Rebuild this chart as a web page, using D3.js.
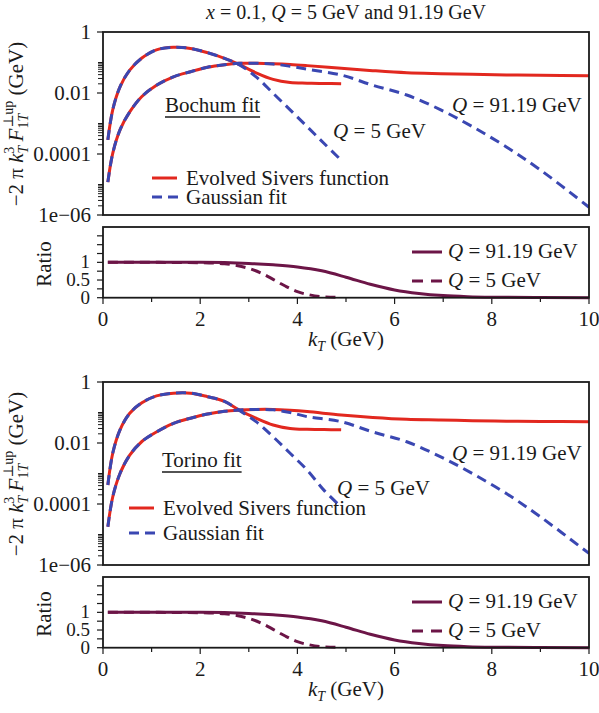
<!DOCTYPE html>
<html>
<head>
<meta charset="utf-8">
<script src="https://cdn.jsdelivr.net/npm/d3@7"></script>
<style>
  body { margin: 0; background: #fff; }
  svg { display: block; font-family: "Liberation Serif", "DejaVu Serif", serif; }
</style>
</head>
<body>
<div id="chart"></div>
<script>
// kT grids (GeV)
const kQ5 = [0.1, 0.2, 0.35, 0.55, 0.8, 1.1, 1.45, 1.8, 2.15, 2.5, 2.8, 3.15, 3.5, 3.85, 4.2, 4.55, 4.9];
const kQ91 = [0.1, 0.2, 0.35, 0.55, 0.8, 1.1, 1.45, 1.8, 2.15, 2.5, 2.8, 3.15, 3.5, 3.85, 4.2, 4.9, 5.55, 6.25, 6.95, 7.6, 8.3, 9, 10];

// Bochum fit
const bochumEvolvedQ5 = [2.9e-4, 2.8e-3, 0.016, 0.056, 0.14, 0.26, 0.315, 0.29, 0.21, 0.137, 0.087, 0.046, 0.028, 0.022, 0.021, 0.0205, 0.020];
const bochumGaussQ5 = [2.9e-4, 2.8e-3, 0.016, 0.056, 0.14, 0.26, 0.315, 0.29, 0.21, 0.137, 0.085, 0.034, 0.0098, 0.0028, 7.9e-4, 2.2e-4, 6.3e-5];
const bochumEvolvedQ91 = [1.2e-5, 1.05e-4, 6.2e-4, 2.4e-3, 7.7e-3, 0.018, 0.034, 0.050, 0.070, 0.085, 0.094, 0.094, 0.091, 0.086, 0.079, 0.065, 0.054, 0.046, 0.043, 0.041, 0.039, 0.038, 0.037];
const bochumGaussQ91 = [1.2e-5, 1.05e-4, 6.2e-4, 2.4e-3, 7.7e-3, 0.018, 0.034, 0.050, 0.070, 0.085, 0.094, 0.094, 0.089, 0.075, 0.060, 0.039, 0.018, 0.0086, 0.0028, 7.9e-4, 1.7e-4, 3.0e-5, 1.8e-6];

// Torino fit
const torinoEvolvedQ5 = [4.2e-4, 4.6e-3, 0.027, 0.094, 0.21, 0.35, 0.43, 0.43, 0.33, 0.23, 0.12, 0.065, 0.039, 0.030, 0.028, 0.0275, 0.027];
const torinoGaussQ5 = [4.2e-4, 4.6e-3, 0.027, 0.094, 0.21, 0.35, 0.43, 0.43, 0.33, 0.23, 0.118, 0.050, 0.016, 0.0046, 0.0013, 2.8e-4, 8e-5];
const torinoEvolvedQ91 = [1.8e-5, 1.7e-4, 1.0e-3, 4.0e-3, 0.0112, 0.023, 0.044, 0.065, 0.089, 0.11, 0.12, 0.126, 0.126, 0.118, 0.107, 0.083, 0.069, 0.060, 0.057, 0.054, 0.052, 0.051, 0.050];
const torinoGaussQ91 = [1.8e-5, 1.7e-4, 1.0e-3, 4.0e-3, 0.0112, 0.023, 0.044, 0.065, 0.089, 0.11, 0.12, 0.126, 0.122, 0.100, 0.073, 0.050, 0.023, 0.011, 0.0035, 0.001, 2.2e-4, 3.8e-5, 2.4e-6];

// Ratio panels
const ratioK5 = [0.1, 1, 2, 2.5, 2.75, 3, 3.25, 3.5, 3.75, 4, 4.25, 4.5, 4.9];
const ratioQ5 = [1, 1, 0.99, 0.96, 0.91, 0.83, 0.70, 0.52, 0.33, 0.17, 0.08, 0.03, 0.01];
const ratioK91 = [0.1, 1, 2, 3, 3.5, 4, 4.5, 5, 5.5, 6, 6.5, 7, 7.5, 8, 9, 10];
const ratioQ91 = [1, 1, 1, 0.97, 0.93, 0.87, 0.76, 0.58, 0.38, 0.22, 0.12, 0.06, 0.03, 0.015, 0.005, 0.002];

// Tick labels
const logTickValues = [1, 0.01, 0.0001, 1e-6];
const logTickLabels = ['1', '0.01', '0.0001', '1e\u221206'];
const ratioTickLabels = [0, 0.5, 1];
const kTickLabels = [0, 2, 4, 6, 8, 10];

const RED = '#e2281f';
const BLUE = '#3a47b2';
const PURPLE = '#6c1547';
const INK = '#1a1a1a';
const FS = 21;

const W = 599, H = 713;
const svg = d3.select('#chart').append('svg')
    .attr('width', W)
    .attr('height', H);

const x = d3.scaleLinear().domain([0, 10]).range([103, 589]);
const smooth = d3.curveCatmullRom.alpha(0.5);

// Title
const title = svg.append('text')
    .attr('x', 346).attr('y', 19)
    .attr('text-anchor', 'middle')
    .attr('font-size', FS - 1)
    .attr('fill', INK);
title.append('tspan').attr('font-style', 'italic').text('x');
title.append('tspan').text(' = 0.1, ');
title.append('tspan').attr('font-style', 'italic').text('Q');
title.append('tspan').text(' = 5 GeV and 91.19 GeV');

// rich text helper: parts = [{t, i, dx, dy, fs}]
function rich(g, px, py, parts, anchor, size) {
    const t = g.append('text')
        .attr('x', px).attr('y', py)
        .attr('font-size', size || FS)
        .attr('fill', INK)
        .attr('text-anchor', anchor || 'start');
    parts.forEach(p => {
        const s = t.append('tspan').text(p.t);
        if (p.i) s.attr('font-style', 'italic');
        if (p.dx) s.attr('dx', p.dx);
        if (p.dy) s.attr('dy', p.dy);
        if (p.fs) s.attr('font-size', p.fs);
    });
    return t;
}

function drawGroup(off, cfg) {
    const g = svg.append('g').attr('transform', `translate(0,${off})`);

    // ---- main (log) panel ----
    const y = d3.scaleLog().domain([1e-6, 1]).range([215, 32]);

    g.append('defs').append('clipPath').attr('id', 'clip' + off)
        .append('rect').attr('x', 103).attr('y', 32).attr('width', 486).attr('height', 183);

    // minor ticks: 2..10 x 10^-2, 10^-4, 10^-6
    const minor = [];
    [1e-2, 1e-4, 1e-6].forEach(d => { for (let k = 2; k <= 10; k++) minor.push(k * d); });
    g.append('g').selectAll('line').data(minor).enter().append('line')
        .attr('x1', 98).attr('x2', 103)
        .attr('y1', d => y(d)).attr('y2', d => y(d))
        .attr('stroke', INK).attr('stroke-width', 1);
    g.append('g').selectAll('line').data(logTickValues).enter().append('line')
        .attr('x1', 97).attr('x2', 103)
        .attr('y1', d => y(d)).attr('y2', d => y(d))
        .attr('stroke', INK).attr('stroke-width', 1.2);
    g.append('g').selectAll('text').data(logTickValues).enter().append('text')
        .attr('x', 91)
        .attr('y', d => y(d) + 7)
        .attr('text-anchor', 'end')
        .attr('font-size', FS)
        .attr('fill', INK)
        .text((d, i) => logTickLabels[i]);

    const line = (ks, vs) => d3.line()
        .x((d, i) => x(ks[i]))
        .y(d => y(d))
        .curve(smooth)(vs);

    const curves = g.append('g').attr('clip-path', `url(#clip${off})`);
    [[kQ91, cfg.evQ91], [kQ5, cfg.evQ5]].forEach(([ks, vs]) => {
        curves.append('path').attr('d', line(ks, vs))
            .attr('fill', 'none').attr('stroke', RED).attr('stroke-width', 3);
    });
    [[kQ91, cfg.gaQ91], [kQ5, cfg.gaQ5]].forEach(([ks, vs]) => {
        curves.append('path').attr('d', line(ks, vs))
            .attr('fill', 'none').attr('stroke', BLUE).attr('stroke-width', 3)
            .attr('stroke-dasharray', '10,6');
    });

    g.append('rect').attr('x', 103).attr('y', 32).attr('width', 486).attr('height', 183)
        .attr('fill', 'none').attr('stroke', INK).attr('stroke-width', 1.8);

    // fit name, underlined
    const fit = rich(g, cfg.fitX, cfg.fitY, [{ t: cfg.fitName }]);
    const fw = fit.node().getComputedTextLength();
    g.append('line')
        .attr('x1', cfg.fitX).attr('x2', cfg.fitX + fw)
        .attr('y1', cfg.fitY + 5).attr('y2', cfg.fitY + 5)
        .attr('stroke', INK).attr('stroke-width', 1.6);

    // Q labels
    rich(g, 452, cfg.q91Y, [{ t: 'Q', i: true }, { t: ' = 91.19 GeV' }]);
    rich(g, cfg.q5X, cfg.q5Y, [{ t: 'Q', i: true }, { t: ' = 5 GeV' }]);

    // legend
    const L = cfg.leg;
    g.append('line').attr('x1', L.x).attr('x2', L.x + 25).attr('y1', L.y1).attr('y2', L.y1)
        .attr('stroke', RED).attr('stroke-width', 3);
    rich(g, L.x + 34, L.y1 + 7, [{ t: 'Evolved Sivers function' }]);
    g.append('line').attr('x1', L.x).attr('x2', L.x + 26).attr('y1', L.y2).attr('y2', L.y2)
        .attr('stroke', BLUE).attr('stroke-width', 3).attr('stroke-dasharray', '10,6');
    rich(g, L.x + 34, L.y2 + 7, [{ t: 'Gaussian fit' }]);

    // y label
    const yl = rich(g, 0, 0, [
        { t: '\u22122 \u03c0 ' },
        { t: 'k', i: true },
        { t: 'T', i: true, fs: 14, dy: 5 },
        { t: '3', fs: 14, dx: -8, dy: -14 },
        { t: ' ', dy: 9 },
        { t: 'F', i: true },
        { t: '1', fs: 14, dy: 5 },
        { t: 'T', i: true, fs: 14 },
        { t: '\u22a5up', fs: 14, dx: -14, dy: -15 },
        { t: ' (GeV)', dy: 10 }
    ], 'middle');
    yl.attr('transform', 'translate(23,124) rotate(-90)');

    // ---- ratio panel ----
    const yr = d3.scaleLinear().domain([0, 2]).range([297.7, 227]);
    g.append('g').selectAll('line').data(d3.range(0, 2, 0.25)).enter().append('line')
        .attr('x1', 97).attr('x2', 103)
        .attr('y1', d => yr(d)).attr('y2', d => yr(d))
        .attr('stroke', INK).attr('stroke-width', 1.2);
    g.append('g').selectAll('text').data(ratioTickLabels).enter().append('text')
        .attr('x', 90).attr('y', d => yr(d) + 6)
        .attr('text-anchor', 'end')
        .attr('font-size', 19).attr('fill', INK)
        .text(d => d);

    g.append('g').selectAll('line').data(d3.range(0, 11)).enter().append('line')
        .attr('x1', d => x(d)).attr('x2', d => x(d))
        .attr('y1', 297.7).attr('y2', d => d % 2 === 0 ? 304 : 302)
        .attr('stroke', INK).attr('stroke-width', 1.2);
    g.append('g').selectAll('text').data(kTickLabels).enter().append('text')
        .attr('x', d => x(d)).attr('y', 326)
        .attr('text-anchor', 'middle')
        .attr('font-size', FS).attr('fill', INK)
        .text(d => d);

    const rline = (ks, vs) => d3.line()
        .x((d, i) => x(ks[i]))
        .y(d => yr(d))
        .curve(d3.curveMonotoneX)(vs);
    g.append('path').attr('d', rline(ratioK91, ratioQ91))
        .attr('fill', 'none').attr('stroke', PURPLE).attr('stroke-width', 3);
    g.append('path').attr('d', rline(ratioK5, ratioQ5))
        .attr('fill', 'none').attr('stroke', PURPLE).attr('stroke-width', 3)
        .attr('stroke-dasharray', '10,6');

    g.append('rect').attr('x', 103).attr('y', 227).attr('width', 486).attr('height', 70.7)
        .attr('fill', 'none').attr('stroke', INK).attr('stroke-width', 1.8);

    // ratio legend
    g.append('line').attr('x1', 412).attr('x2', 442).attr('y1', 252).attr('y2', 252)
        .attr('stroke', PURPLE).attr('stroke-width', 3);
    rich(g, 448, 258, [{ t: 'Q', i: true }, { t: ' = 91.19 GeV' }]);
    g.append('line').attr('x1', 412).attr('x2', 442).attr('y1', 281).attr('y2', 281)
        .attr('stroke', PURPLE).attr('stroke-width', 3).attr('stroke-dasharray', '11,8');
    rich(g, 448, 287, [{ t: 'Q', i: true }, { t: ' = 5 GeV' }]);

    rich(g, 0, 0, [{ t: 'Ratio' }], 'middle')
        .attr('transform', 'translate(51,264) rotate(-90)');

    rich(g, 346, 346, [
        { t: 'k', i: true },
        { t: 'T', i: true, fs: 14, dy: 5 },
        { t: ' (GeV)', dy: -5 }
    ], 'middle');
}

drawGroup(0, {
    evQ5: bochumEvolvedQ5, gaQ5: bochumGaussQ5,
    evQ91: bochumEvolvedQ91, gaQ91: bochumGaussQ91,
    fitName: 'Bochum fit', fitX: 165, fitY: 112,
    q91Y: 112, q5X: 333, q5Y: 138,
    leg: { x: 152, y1: 178, y2: 197 }
});

drawGroup(350, {
    evQ5: torinoEvolvedQ5, gaQ5: torinoGaussQ5,
    evQ91: torinoEvolvedQ91, gaQ91: torinoGaussQ91,
    fitName: 'Torino fit', fitX: 162, fitY: 117,
    q91Y: 110, q5X: 337, q5Y: 145,
    leg: { x: 129, y1: 158, y2: 183 }
});
</script>
</body>
</html>
